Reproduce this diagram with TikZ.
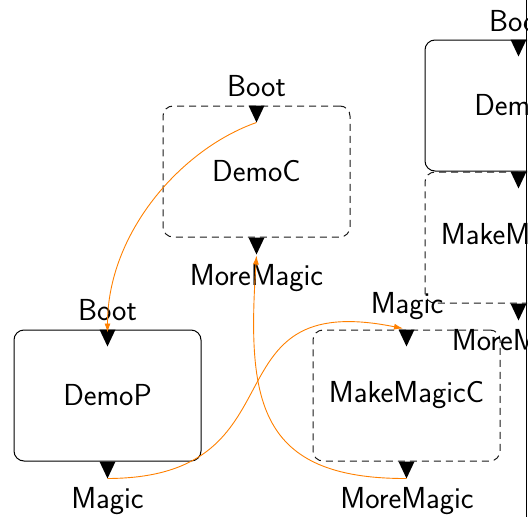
\documentclass[tikz,border=0pt]{standalone}
\usetikzlibrary{arrows.meta,calc}
\definecolor{edgeor}{RGB}{255,128,0}
\newcommand\porttri[1]{\fill (#1) ++(-8,0) -- ++(16,0) -- ++(-8,17) -- cycle;}
\begin{document}
\begin{tikzpicture}[x=1pt,y=-1pt,
  pbox/.style={draw=black, line width=1pt, rounded corners=10pt, minimum width=187pt, minimum height=131pt, inner sep=0pt, font=\fontsize{30.4}{36}\sffamily},
  cbox/.style={pbox, dash pattern=on 7pt off 5pt, draw=black!90},
  lbl/.style={font=\fontsize{30.4}{36}\sffamily, inner sep=0pt, anchor=base},
  wire/.style={draw=edgeor, line width=0.9pt, -{Latex[length=9pt,width=6pt]}},
]
\useasboundingbox (0,0) rectangle (531,517);
\begin{scope}
\clip (0,0) rectangle (527,517);
% boxes
\node[cbox] (democ) at (256.5,171.5) {DemoC};
\node[pbox] (demop) at (107.5,395.5) {DemoP};
\node[cbox] (mmc) at (406.5,395.5) {MakeMagicC};
\node[pbox] (demox) at (518.5,105.5) {DemoP};
\node[cbox] (mmx) at (518.5,237.5) {MakeMagicC};
% port triangles
\porttri{democ.north}
\porttri{democ.south}
\porttri{demop.north}
\porttri{demop.south}
\porttri{mmc.north}
\porttri{mmc.south}
\porttri{demox.north}
\porttri{demox.south}
\porttri{mmx.south}
% port labels
\node[lbl] (lc1) at (256.5,96) {Boot};
\node[lbl] (lc2) at (256.5,285) {MoreMagic};
\node[lbl] (lp1) at (107.5,320) {Boot};
\node[lbl] (lp2) at (107.5,508) {Magic};
\node[lbl] (lm1) at (407,313) {Magic};
\node[lbl] (lm2) at (407,508) {MoreMagic};
\node[lbl] (lx1) at (518.5,31) {Boot};
\node[lbl] (lx2) at (518.5,350) {MoreMagic};
% connector end points
\coordinate (cbootT) at ($(democ.north)+(0,17)$);
\coordinate (cmoreT) at ($(democ.south)+(0,18)$);
\coordinate (pbootT) at ($(demop.north)+(0,3)$);
\coordinate (pmagT) at ($(demop.south)+(0,17)$);
\coordinate (mmagT) at ($(mmc.north)+(-3.5,-1)$);
\coordinate (mmoreT) at ($(mmc.south)+(0,17)$);
% connectors
\draw[wire] (cbootT) .. controls (181,149) and (107.5,233) .. (pbootT);
\draw[wire] (pmagT) .. controls (307,478) and (203,288) .. (mmagT);
\draw[wire] (mmoreT) .. controls (257,479) and (247,400) .. (cmoreT);
\end{scope}
\draw[line width=1pt] (526.5,0) -- (526.5,517);
\end{tikzpicture}
\end{document}
